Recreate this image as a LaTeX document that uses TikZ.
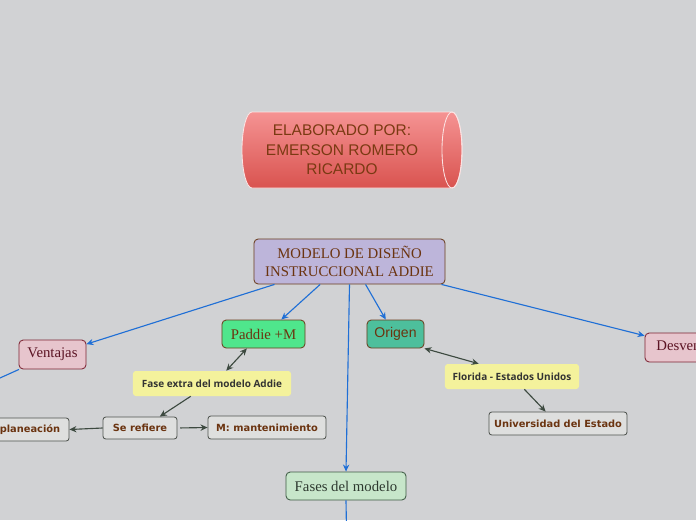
\documentclass[tikz,border=0pt]{standalone}
\usepackage{fontspec}
\setmainfont{Liberation Serif}
\setsansfont{Open Sans}
\newfontfamily\plainsans{Liberation Sans}
\newfontfamily\leafsans{DejaVu Sans}
\usetikzlibrary{positioning,arrows.meta}

\definecolor{canvasbg}{HTML}{D1D2D4}
\definecolor{linkblue}{HTML}{1F6FD6}
\definecolor{reldark}{HTML}{3D4A40}
\definecolor{browntext}{HTML}{6B3410}
\definecolor{mainfill}{HTML}{BDB5DA}
\definecolor{mainline}{HTML}{6B3E1E}
\definecolor{profill}{HTML}{E7C5CD}
\definecolor{proline}{HTML}{7D2433}
\definecolor{protext}{HTML}{5C1424}
\definecolor{greenfill}{HTML}{4FE68C}
\definecolor{tealfill}{HTML}{4DBF9C}
\definecolor{phasefill}{HTML}{C7E6CA}
\definecolor{phaseline}{HTML}{3E5A44}
\definecolor{phasetext}{HTML}{2E3A30}
\definecolor{notefill}{HTML}{F4F29C}
\definecolor{notetext}{HTML}{333333}
\definecolor{leaffill}{HTML}{DEDFDE}
\definecolor{leafline}{HTML}{4F544F}
\definecolor{cyltop}{HTML}{F59393}
\definecolor{cylbottom}{HTML}{D9534F}
\definecolor{cyltext}{HTML}{7A3A12}

\begin{document}
\begin{tikzpicture}[x=0.025cm, y=-0.025cm,
    topic/.style={draw, rounded corners=3pt, line width=0.6pt, inner sep=0pt, align=center,
      font=\fontsize{10.5}{12.7}\selectfont},
    note/.style={fill=notefill, rounded corners=2pt, inner sep=0pt, text=notetext,
      font=\sffamily\bfseries\fontsize{7.1}{8}\selectfont},
    leaf/.style={draw=leafline, fill=leaffill, rounded corners=2pt, line width=0.6pt, inner sep=0pt,
      text=browntext, font=\leafsans\bfseries\fontsize{7}{8}\selectfont},
    link/.style={draw=linkblue, line width=0.8pt, -{Stealth[length=5pt,width=4.5pt]}},
    rel/.style={draw=reldark, line width=0.8pt, -{Stealth[length=5pt,width=4.5pt]}},
    >=Stealth
  ]
  \useasboundingbox (0,0) rectangle (696,520);
  \clip (0,0) rectangle (696,520);
  \fill[canvasbg] (0,0) rectangle (696,520);

  % author cylinder
  \shade[top color=cyltop, bottom color=cylbottom, draw=white!75!cyltop, line width=0.6pt]
    (252,112) -- (452,112) arc[start angle=90, end angle=-90, x radius=0.25cm, y radius=0.95cm]
    -- (252,188) arc[start angle=270, end angle=90, x radius=0.25cm, y radius=0.95cm] -- cycle;
  \draw[white!75!cyltop, line width=0.6pt] (452,150) ellipse[x radius=0.25cm, y radius=0.95cm];
  \node[align=center, text=cyltext, font=\plainsans\fontsize{11}{13.8}\selectfont] (autor) at (342,150)
    {ELABORADO POR:\\EMERSON ROMERO\\RICARDO};

  % main topic and branches
  \node[topic, draw=mainline, fill=mainfill, text=browntext, minimum width=4.775cm, minimum height=1.125cm]
    (addie) at (349.5,261.5) {MODELO DE DISEÑO\\INSTRUCCIONAL ADDIE};
  \node[topic, draw=proline, fill=profill, text=protext, minimum width=1.675cm, minimum height=0.725cm]
    (ventajas) at (52.5,354.5) {Ventajas};
  \node[topic, draw=mainline, fill=greenfill, text=browntext, minimum width=2.075cm, minimum height=0.7cm]
    (paddie) at (263.5,334) {Paddie +M};
  \node[topic, draw=mainline, fill=tealfill, text=browntext, minimum width=1.425cm, minimum height=0.7cm,
    font=\plainsans\fontsize{10}{12}\selectfont]
    (origen) at (395.5,334) {Origen};
  \node[topic, draw=proline, fill=profill, text=protext, minimum width=2.35cm, minimum height=0.725cm]
    (desventajas) at (692,347.5) {Desventajas};
  \node[topic, draw=phaseline, fill=phasefill, text=phasetext, minimum width=3cm, minimum height=0.7cm]
    (fases) at (346,486) {Fases del modelo};

  % notes and details
  \node[note, minimum width=3.95cm, minimum height=0.625cm] (faseextra) at (212,383.5) {Fase extra del modelo Addie};
  \node[note, minimum width=3.35cm, minimum height=0.625cm] (florida) at (512,376.5) {Florida - Estados Unidos};
  \node[leaf, minimum width=1.85cm, minimum height=0.55cm] (serefiere) at (140,428) {Se refiere};
  \node[leaf, minimum width=2.95cm, minimum height=0.575cm] (mant) at (267,427.5) {M: mantenimiento};
  \node[leaf, minimum width=1.95cm, minimum height=0.575cm] (planeacion) at (30,429.5) {planeación};
  \node[leaf, minimum width=3.45cm, minimum height=0.575cm] (univ) at (558,423.5) {Universidad del Estado};

  \coordinate (ventajasout) at (-40,396);
  \coordinate (fasesout) at (347,560);

  \draw[link] (addie.197) -- (ventajas.17);
  \draw[link] (addie.218) -- (paddie.39);
  \draw[link] (addie.south) -- (fases.north);
  \draw[link] (addie.305) -- (origen.124);
  \draw[link] (addie.346) -- (desventajas.166);
  \draw[link, -] (ventajas.204) -- (ventajasout);
  \draw[link, -] (fases.south) -- (fasesout);

  \draw[rel, {Stealth[length=5pt,width=4.5pt]}-{Stealth[length=5pt,width=4.5pt]}] (faseextra.42) -- (paddie.221);
  \draw[rel, {Stealth[length=5pt,width=4.5pt]}-{Stealth[length=5pt,width=4.5pt]}] (florida.159) -- (origen.south east);
  \draw[rel] (faseextra.211) -- (serefiere.30);
  \draw[rel] (serefiere.west) -- (planeacion.east);
  \draw[rel, shorten <=2pt] (serefiere.east) -- (mant.west);
  \draw[rel] (florida.314) -- (univ.136);
\end{tikzpicture}
\end{document}
